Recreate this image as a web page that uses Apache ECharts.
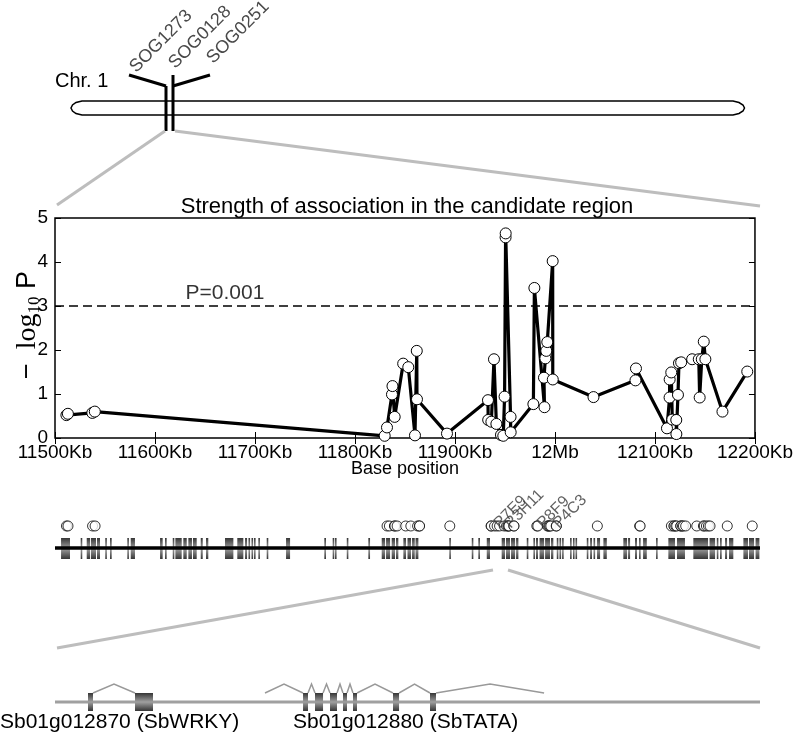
<!DOCTYPE html>
<html><head><meta charset="utf-8">
<script src="https://cdn.jsdelivr.net/npm/echarts@6/dist/echarts.min.js"></script>
<style>html,body{margin:0;padding:0;background:#fff}#c{width:796px;height:734px}</style>
</head><body><div id="c"></div>
<script>
// ---------- data ----------
const snpPos = [11511.4, 11512.9, 11537.3, 11539.8, 11829.7, 11832.0, 11837.0, 11837.5, 11839.7, 11848.2,
  11853.3, 11860.0, 11861.8, 11862.0, 11892.0, 11933.0, 11933.2, 11936.4, 11939.0, 11941.4,
  11946.0, 11948.3, 11949.6, 11950.6, 11950.7, 11955.6, 11955.7, 11978.4, 11979.4, 11989.5,
  11989.0, 11990.4, 11991.3, 11992.3, 11997.7, 11997.8, 12038.5, 12080.5, 12081.0, 12112.0,
  12114.6, 12114.7, 12116.3, 12117.3, 12121.3, 12121.4, 12123.0, 12124.0, 12126.2, 12137.2,
  12143.8, 12144.7, 12146.8, 12148.8, 12150.4, 12167.5, 12192.3];
const snpLogP = [0.52, 0.55, 0.57, 0.60, 0.05, 0.24, 0.99, 1.18, 0.48, 1.69,
  1.61, 0.06, 1.98, 0.88, 0.10, 0.86, 0.41, 0.37, 1.79, 0.32,
  0.07, 0.05, 0.94, 4.56, 4.65, 0.48, 0.13, 0.77, 3.41, 0.70,
  1.37, 1.81, 1.98, 2.18, 4.02, 1.33, 0.93, 1.31, 1.58, 0.22,
  0.92, 1.33, 1.49, 0.42, 0.41, 0.09, 0.98, 1.70, 1.72, 1.79,
  1.79, 0.92, 1.79, 2.19, 1.79, 0.60, 1.51];
const xTickValues = [11500, 11600, 11700, 11800, 11900, 12000, 12100, 12200];
const yTickValues = [0, 1, 2, 3, 4, 5];
const thresholdLogP = 3;
const thresholdLabel = 'P=0.001';

// gene models along the candidate region (Kb)
const geneStart = [11506.0, 11525.5, 11531.5, 11535.7, 11541.7, 11549.9, 11554.6, 11571.8, 11575.2, 11604.3,
  11609.2, 11616.9, 11619.5, 11627.4, 11632.4, 11637.0, 11644.7, 11649.9, 11668.8, 11681.0,
  11688.7, 11692.1, 11695.1, 11697.6, 11701.9, 11710.2, 11729.4, 11767.4, 11775.7, 11778.0,
  11789.7, 11811.1, 11824.4, 11828.7, 11834.3, 11838.6, 11845.9, 11850.0, 11854.5, 11858.0,
  11891.5, 11913.8, 11920.3, 11928.7, 11943.5, 11947.8, 11952.8, 11957.8, 11968.4, 11975.0,
  11977.6, 11981.1, 11986.6, 11992.5, 11998.2, 12000.9, 12003.5, 12011.4, 12014.3, 12016.8,
  12028.0, 12031.3, 12034.7, 12038.2, 12044.5, 12064.3, 12069.0, 12075.9, 12079.9, 12083.9,
  12096.8, 12109.0, 12117.6, 12133.8, 12149.9, 12157.1, 12160.3, 12165.3, 12169.2, 12183.5,
  12189.1, 12195.6];
const geneEnd = [11514.9, 11526.8, 11534.8, 11540.7, 11544.7, 11551.3, 11556.3, 11573.2, 11579.4, 11606.9,
  11610.9, 11618.2, 11625.8, 11630.8, 11636.0, 11640.7, 11646.7, 11652.2, 11677.1, 11687.0,
  11690.7, 11693.6, 11696.6, 11698.6, 11702.9, 11711.5, 11733.4, 11769.1, 11776.7, 11779.0,
  11790.3, 11812.8, 11827.7, 11832.7, 11837.6, 11840.9, 11848.5, 11853.5, 11857.2, 11860.8,
  11892.9, 11915.4, 11922.0, 11931.9, 11946.8, 11951.8, 11956.8, 11960.1, 11970.0, 11976.6,
  11979.6, 11985.6, 11991.5, 11994.8, 11999.8, 12002.5, 12004.8, 12012.9, 12015.8, 12018.0,
  12029.3, 12033.2, 12036.2, 12041.2, 12047.9, 12068.0, 12071.0, 12077.9, 12081.4, 12087.6,
  12098.1, 12115.6, 12125.5, 12148.4, 12155.4, 12158.4, 12162.0, 12167.3, 12173.5, 12188.1,
  12194.1, 12199.4];
const markerNames = ['P7E9', 'P3H11', 'P8F9', 'P4C3'];
const markerPos = [11944.0, 11955.0, 11987.0, 12003.0];

// zoomed gene structures (Kb)
const zoomStart = 11934.5, zoomEnd = 11950.5;
const exonStart = [11935.249, 11936.316, 11940.129, 11940.401, 11940.741, 11941.036, 11941.263, 11942.171, 11943.011];
const exonEnd   = [11935.362, 11936.724, 11940.242, 11940.583, 11940.900, 11941.127, 11941.354, 11942.308, 11943.147];
const intronStart = [11935.362, 11939.266, 11940.242, 11940.583, 11940.900, 11941.127, 11941.354, 11942.308, 11943.147];
const intronEnd   = [11936.316, 11940.129, 11940.401, 11940.741, 11941.036, 11941.263, 11942.171, 11943.011, 11945.600];
const geneNames = ['Sb01g012870 (SbWRKY)', 'Sb01g012880 (SbTATA)'];

const chrName = 'Chr. 1';
const chrMarkerNames = ['SOG1273', 'SOG0128', 'SOG0251'];

// ---------- chart ----------
const FONT = '"Liberation Sans", Arial, Helvetica, sans-serif';
const SERIF = '"Liberation Serif", "DejaVu Serif", serif';
const chart = echarts.init(document.getElementById('c'));

function grad() {
  return {type: 'linear', x: 0, y: 0, x2: 0, y2: 1, global: false, colorStops: [
    {offset: 0, color: '#353535'}, {offset: 0.5, color: '#a0a0a0'}, {offset: 1, color: '#353535'}]};
}
function rectItem(api) {
  const s = api.coord([api.value(0), api.value(2)]);
  const e = api.coord([api.value(1), api.value(3)]);
  const w = Math.max(e[0] - s[0], 1.6);
  return {type: 'rect', shape: {x: s[0], y: s[1], width: w, height: e[1] - s[1]}, style: {fill: grad()}};
}

const LINE_Y = 0.304, BAR_TOP = 0.522, BAR_BOT = 0.065, CIRC_Y = 0.783;
const G_LINE = 0.45, EX_TOP = 0.675, EX_BOT = 0.225, PEAK = 0.9;

const option = {
  animation: false,
  backgroundColor: '#fff',
  title: {
    text: 'Strength of association in the candidate region',
    left: 407, top: 196, textAlign: 'center', padding: 0,
    textStyle: {fontFamily: FONT, fontSize: 22, fontWeight: 'normal', color: '#000'}
  },
  grid: [
    {left: 55, top: 218, width: 705, height: 220, show: true, borderColor: '#000', borderWidth: 1.5, backgroundColor: 'transparent'},
    {left: 55, top: 516, width: 705, height: 46},
    {left: 55, top: 680, width: 705, height: 40}
  ],
  xAxis: [
    {gridIndex: 0, type: 'value', min: 11500, max: 12200, interval: 100, position: 'bottom',
      axisLine: {show: false}, splitLine: {show: false},
      axisTick: {inside: true, length: 6, lineStyle: {color: '#000', width: 1}},
      axisLabel: {fontFamily: FONT, fontSize: 19, color: '#000', margin: 5,
        formatter: v => v === 12000 ? '12Mb' : v + 'Kb'},
      name: 'Base position', nameLocation: 'middle', nameGap: 22, nameMoveOverlap: false,
      nameTextStyle: {fontFamily: FONT, fontSize: 18, color: '#000'}},
    {gridIndex: 0, type: 'value', min: 11500, max: 12200, interval: 100, position: 'top',
      axisLine: {show: false}, splitLine: {show: false}, axisLabel: {show: false},
      axisTick: {inside: true, length: 6, lineStyle: {color: '#000', width: 1}}},
    {gridIndex: 1, type: 'value', min: 11500, max: 12200, show: false},
    {gridIndex: 2, type: 'value', min: zoomStart, max: zoomEnd, show: false}
  ],
  yAxis: [
    {gridIndex: 0, type: 'value', min: 0, max: 5, interval: 1, position: 'left',
      axisLine: {show: false}, splitLine: {show: false},
      axisTick: {inside: true, length: 6, lineStyle: {color: '#000', width: 1}},
      axisLabel: {fontFamily: FONT, fontSize: 19, color: '#000', margin: 7},
      name: '{m|−}{l|  log}{s|10}{p| P}', nameLocation: 'middle', nameGap: 12, nameRotate: 90, nameMoveOverlap: false,
      nameTextStyle: {padding: [0, 0, 0, 6], rich: {
        m: {fontFamily: FONT, fontSize: 27, lineHeight: 30, color: '#000'},
        l: {fontFamily: SERIF, fontSize: 28, lineHeight: 30, color: '#000'},
        s: {fontFamily: SERIF, fontSize: 17, lineHeight: 30, verticalAlign: 'bottom', color: '#000'},
        p: {fontFamily: FONT, fontSize: 27, lineHeight: 30, color: '#000'}
      }}},
    {gridIndex: 0, type: 'value', min: 0, max: 5, interval: 1, position: 'right',
      axisLine: {show: false}, splitLine: {show: false}, axisLabel: {show: false},
      axisTick: {inside: true, length: 6, lineStyle: {color: '#000', width: 1}}},
    {gridIndex: 1, type: 'value', min: 0, max: 1, show: false},
    {gridIndex: 2, type: 'value', min: 0, max: 1, show: false}
  ],
  series: [
    {type: 'line', xAxisIndex: 0, yAxisIndex: 0, z: 5,
      data: snpPos.map((p, i) => [p, snpLogP[i]]),
      symbol: 'circle', symbolSize: 11, showAllSymbol: true,
      lineStyle: {color: '#000', width: 3.2},
      itemStyle: {color: '#fff', borderColor: '#000', borderWidth: 1},
      markLine: {silent: true, symbol: 'none', label: {show: false},
        lineStyle: {color: '#000', width: 1.5, type: [9, 5]},
        data: [{yAxis: thresholdLogP}]}},
    {type: 'scatter', xAxisIndex: 0, yAxisIndex: 0, symbolSize: 0, silent: true,
      data: [[11670, thresholdLogP]],
      label: {show: true, position: 'top', distance: 2, formatter: thresholdLabel,
        fontFamily: FONT, fontSize: 21, color: '#000'}},
    // track
    {type: 'custom', xAxisIndex: 2, yAxisIndex: 2, silent: true,
      data: geneStart.map((s, i) => [s, geneEnd[i], BAR_TOP, BAR_BOT]),
      renderItem: (params, api) => rectItem(api)},
    {type: 'line', xAxisIndex: 2, yAxisIndex: 2, silent: true, symbol: 'none', z: 4,
      data: [[11500, LINE_Y], [12200, LINE_Y]], lineStyle: {color: '#000', width: 3.5}},
    {type: 'scatter', xAxisIndex: 2, yAxisIndex: 2, silent: true, z: 5,
      data: snpPos.map(p => [p, CIRC_Y]), symbol: 'circle', symbolSize: 10,
      itemStyle: {color: '#fff', borderColor: '#000', borderWidth: 1}},
    {type: 'scatter', xAxisIndex: 2, yAxisIndex: 2, silent: true, symbolSize: 0, z: 6,
      data: markerPos.map((p, i) => ({value: [p, 0.66], name: markerNames[i]})),
      label: {show: true, position: [0, 0], align: 'left', verticalAlign: 'bottom', rotate: 45,
        formatter: p => p.name, fontFamily: FONT, fontSize: 16, color: '#3a3a3a'}},
    // zoomed genes
    {type: 'line', xAxisIndex: 3, yAxisIndex: 3, silent: true, symbol: 'none',
      data: [[zoomStart, G_LINE], [zoomEnd, G_LINE]], lineStyle: {color: '#a0a0a0', width: 3}},
    {type: 'custom', xAxisIndex: 3, yAxisIndex: 3, silent: true,
      data: intronStart.map((s, i) => [s, intronEnd[i]]),
      renderItem: (params, api) => {
        const a = api.coord([api.value(0), EX_TOP]);
        const b = api.coord([api.value(1), EX_TOP]);
        const m = api.coord([(api.value(0) + api.value(1)) / 2, PEAK]);
        return {type: 'polyline', shape: {points: [a, m, b]}, style: {stroke: '#999', lineWidth: 1.5, fill: null}};
      }},
    {type: 'custom', xAxisIndex: 3, yAxisIndex: 3, silent: true, z: 4,
      data: exonStart.map((s, i) => [s, exonEnd[i], EX_TOP, EX_BOT]),
      renderItem: (params, api) => rectItem(api)}
  ],
  graphic: [
    // chromosome
    {type: 'polygon', shape: {points: [[82,101],[733,101],[739,102.5],[743,105],[744.5,108],[743,111],[739,113.5],[733,115],[82,115],[76,113.5],[72.5,111],[71,108],[72.5,105],[76,102.5]]},
      style: {fill: '#fff', stroke: '#000', lineWidth: 1.5}},
    {type: 'line', shape: {x1: 166, y1: 86, x2: 166, y2: 131}, style: {stroke: '#000', lineWidth: 3}},
    {type: 'line', shape: {x1: 173, y1: 75, x2: 173, y2: 131}, style: {stroke: '#000', lineWidth: 3}},
    {type: 'line', shape: {x1: 129, y1: 75, x2: 166, y2: 86}, style: {stroke: '#000', lineWidth: 3}},
    {type: 'line', shape: {x1: 173, y1: 86, x2: 210, y2: 75}, style: {stroke: '#000', lineWidth: 3}},
    {type: 'text', x: 55, y: 81, style: {text: chrName, font: '20px ' + FONT, fill: '#000', textAlign: 'left', textVerticalAlign: 'middle'}},
    {type: 'text', x: 139, y: 76, rotation: Math.PI / 4, style: {text: chrMarkerNames[0], font: '18px ' + FONT, fill: '#4a4a4a', textAlign: 'left', textVerticalAlign: 'bottom'}},
    {type: 'text', x: 178, y: 72, rotation: Math.PI / 4, style: {text: chrMarkerNames[1], font: '18px ' + FONT, fill: '#4a4a4a', textAlign: 'left', textVerticalAlign: 'bottom'}},
    {type: 'text', x: 216, y: 67, rotation: Math.PI / 4, style: {text: chrMarkerNames[2], font: '18px ' + FONT, fill: '#4a4a4a', textAlign: 'left', textVerticalAlign: 'bottom'}},
    // zoom connectors
    {type: 'line', shape: {x1: 165, y1: 131, x2: 57, y2: 205}, style: {stroke: '#bdbdbd', lineWidth: 3}},
    {type: 'line', shape: {x1: 175, y1: 131, x2: 760, y2: 206}, style: {stroke: '#bdbdbd', lineWidth: 3}},
    {type: 'line', shape: {x1: 493, y1: 570, x2: 57, y2: 648}, style: {stroke: '#bdbdbd', lineWidth: 3}},
    {type: 'line', shape: {x1: 508, y1: 570, x2: 760, y2: 648}, style: {stroke: '#bdbdbd', lineWidth: 3}},
    // gene names
    {type: 'text', x: 0, y: 722, style: {text: geneNames[0], font: '21px ' + FONT, fill: '#000', textAlign: 'left', textVerticalAlign: 'middle'}},
    {type: 'text', x: 293, y: 722, style: {text: geneNames[1], font: '21px ' + FONT, fill: '#000', textAlign: 'left', textVerticalAlign: 'middle'}}
  ]
};
chart.setOption(option);
</script>
</body></html>
